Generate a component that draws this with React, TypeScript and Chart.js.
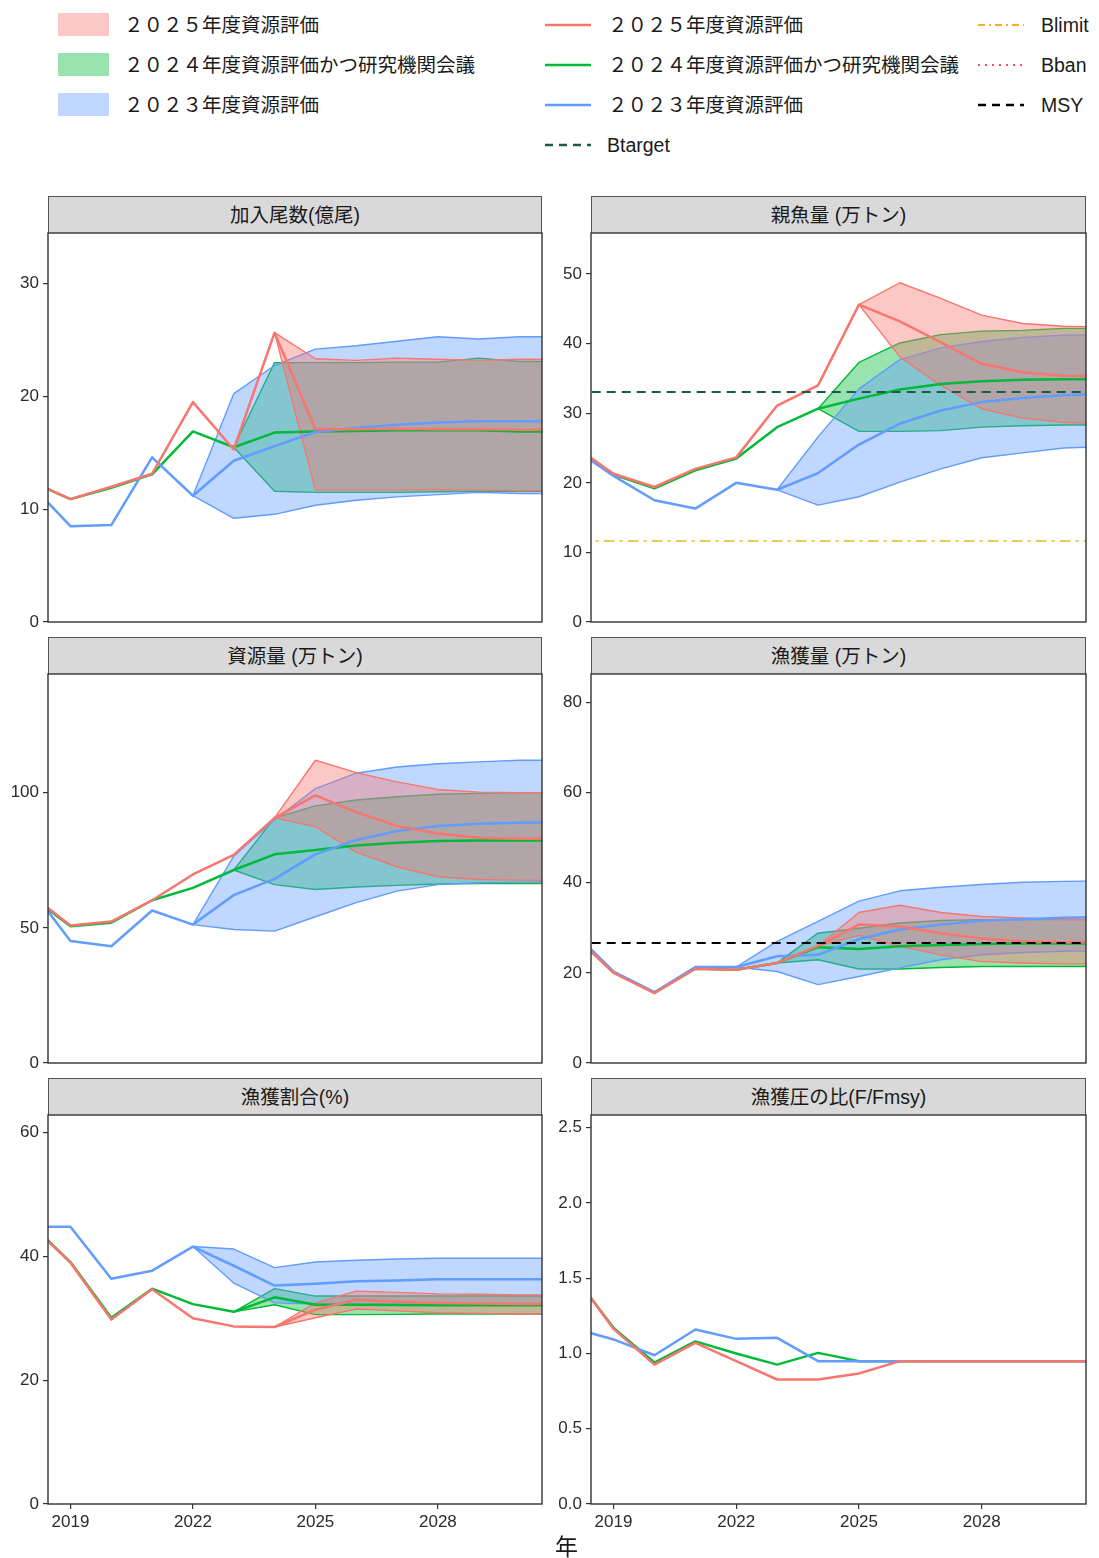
import React, { useEffect, useRef } from 'react';
import { Chart, registerables } from 'chart.js';

Chart.register(...registerables);

// ---------------- data ----------------
const years = [2018, 2019, 2020, 2021, 2022, 2023, 2024, 2025, 2026, 2027, 2028, 2029, 2030, 2031];
const xTickValues = [2019, 2022, 2025, 2028];
const X_MIN = 2018.45;
const X_MAX = 2030.55;

const seriesLabels = ['２０２５年度資源評価', '２０２４年度資源評価かつ研究機関会議', '２０２３年度資源評価'];
const refLabels = ['Blimit', 'Bban', 'MSY', 'Btarget'];
const panelTitles = ['加入尾数(億尾)', '親魚量 (万トン)', '資源量 (万トン)', '漁獲量 (万トン)', '漁獲割合(%)', '漁獲圧の比(F/Fmsy)'];
const xAxisTitle = '年';

const N = null;

// 加入尾数
const recTicks = [0, 10, 20, 30];
const recMax = 34.5;
const recRed = [12.5, 10.9, 12.0, 13.15, 19.5, 15.3, 25.66, 17.1, 17.1, 17.15, 17.1, 17.1, 17.05, 17.05];
const recRedLo = [N, N, N, N, N, N, 25.66, 11.7, 11.7, 11.7, 11.75, 11.7, 11.65, 11.65];
const recRedHi = [N, N, N, N, N, N, 25.66, 23.35, 23.2, 23.4, 23.3, 23.2, 23.3, 23.3];
const recGreen = [12.5, 10.9, 11.9, 13.1, 16.9, 15.5, 16.8, 16.9, 16.95, 17.0, 17.0, 17.0, 16.9, 16.9];
const recGreenLo = [N, N, N, N, N, 15.5, 11.6, 11.5, 11.5, 11.5, 11.55, 11.6, 11.6, 11.6];
const recGreenHi = [N, N, N, N, N, 15.5, 23.0, 23.0, 23.0, 23.05, 23.05, 23.4, 23.1, 23.1];
const recBlue = [12.3, 8.5, 8.6, 14.6, 11.2, 14.3, 15.6, 16.85, 17.2, 17.5, 17.7, 17.8, 17.8, 17.8];
const recBlueLo = [N, N, N, N, 11.2, 9.2, 9.55, 10.35, 10.8, 11.1, 11.3, 11.5, 11.4, 11.4];
const recBlueHi = [N, N, N, N, 11.2, 20.25, 22.75, 24.2, 24.5, 24.9, 25.3, 25.1, 25.3, 25.3];

// 親魚量
const ssbTicks = [0, 10, 20, 30, 40, 50];
const ssbMax = 55.9;
const ssbRed = [25.4, 21.3, 19.4, 22.0, 23.66, 31.1, 34.0, 45.6, 43.2, 40.2, 37.1, 35.9, 35.4, 35.3];
const ssbRedLo = [N, N, N, N, N, N, N, 45.6, 38.1, 34.0, 30.65, 29.3, 28.7, 28.5];
const ssbRedHi = [N, N, N, N, N, N, N, 45.6, 48.75, 46.5, 44.1, 42.9, 42.5, 42.4];
const ssbGreen = [25.4, 21.2, 19.2, 21.8, 23.5, 28.0, 30.65, 32.1, 33.4, 34.2, 34.6, 34.8, 34.9, 34.9];
const ssbGreenLo = [N, N, N, N, N, N, 30.65, 27.4, 27.4, 27.5, 28.0, 28.2, 28.3, 28.3];
const ssbGreenHi = [N, N, N, N, N, N, 30.65, 37.3, 40.1, 41.3, 41.8, 41.9, 42.2, 42.2];
const ssbBlue = [25.0, 21.0, 17.5, 16.3, 20.0, 19.0, 21.4, 25.5, 28.5, 30.4, 31.6, 32.2, 32.6, 32.8];
const ssbBlueLo = [N, N, N, N, N, 19.0, 16.8, 18.0, 20.1, 22.0, 23.6, 24.3, 25.0, 25.2];
const ssbBlueHi = [N, N, N, N, N, 19.0, 26.6, 33.5, 37.7, 39.4, 40.3, 40.9, 41.2, 41.3];
const ssbBtarget = 33.05;
const ssbBlimit = 11.64;

// 資源量
const bioTicks = [0, 50, 100];
const bioMax = 143.9;
const bioRed = [62.6, 50.9, 52.3, 60.2, 69.75, 77.0, 90.7, 99.0, 92.8, 87.7, 84.9, 83.3, 83.0, 82.9];
const bioRedLo = [N, N, N, N, N, N, 90.7, 87.4, 78.0, 72.6, 68.9, 67.9, 67.65, 67.6];
const bioRedHi = [N, N, N, N, N, N, 90.7, 112.0, 107.4, 104.0, 101.2, 100.2, 100.0, 100.0];
const bioGreen = [62.0, 50.6, 51.9, 60.2, 64.8, 71.4, 77.2, 78.8, 80.5, 81.5, 82.1, 82.3, 82.3, 82.3];
const bioGreenLo = [N, N, N, N, N, 71.4, 66.0, 64.2, 65.1, 65.7, 66.2, 66.4, 66.4, 66.4];
const bioGreenHi = [N, N, N, N, N, 71.4, 90.7, 95.1, 97.3, 98.5, 99.4, 99.75, 100.0, 100.0];
const bioBlue = [65.1, 45.1, 43.2, 56.4, 51.2, 62.1, 68.1, 77.2, 82.5, 85.8, 87.65, 88.5, 88.9, 89.0];
const bioBlueLo = [N, N, N, N, 51.2, 49.4, 48.8, 54.1, 59.3, 63.6, 66.0, 66.7, 66.9, 67.0];
const bioBlueHi = [N, N, N, N, 51.2, 76.5, 90.0, 101.5, 107.2, 109.5, 110.7, 111.4, 112.0, 112.0];

// 漁獲量
const catTicks = [0, 20, 40, 60, 80];
const catMax = 86.3;
const catRed = [28.6, 20.0, 15.5, 20.9, 20.7, 22.2, 26.0, 30.7, 30.3, 28.8, 27.6, 27.0, 26.8, 26.8];
const catRedLo = [N, N, N, N, N, N, 26.0, 28.3, 25.9, 24.0, 22.5, 22.2, 22.0, 22.0];
const catRedHi = [N, N, N, N, N, N, 26.0, 33.4, 35.0, 33.4, 32.5, 32.2, 31.8, 31.8];
const catGreen = [28.6, 20.1, 15.6, 20.9, 20.7, 22.2, 25.7, 25.3, 25.9, 26.2, 26.4, 26.5, 26.5, 26.5];
const catGreenLo = [N, N, N, N, N, 22.2, 22.9, 20.85, 20.85, 21.2, 21.4, 21.4, 21.4, 21.4];
const catGreenHi = [N, N, N, N, N, 22.2, 28.8, 29.9, 31.05, 31.6, 31.8, 31.8, 31.8, 31.8];
const catBlue = [29.3, 20.3, 15.7, 21.3, 21.3, 23.7, 24.0, 27.5, 29.6, 30.7, 31.6, 31.9, 32.2, 32.3];
const catBlueLo = [N, N, N, N, 21.3, 20.3, 17.4, 19.2, 21.1, 22.9, 24.0, 24.5, 24.8, 24.9];
const catBlueHi = [N, N, N, N, 21.3, 27.0, 31.4, 35.9, 38.2, 39.0, 39.6, 40.1, 40.3, 40.4];
const catMsy = 26.6;

// 漁獲割合
const hrTicks = [0, 20, 40, 60];
const hrMax = 62.86;
const hrRed = [45.3, 39.0, 29.8, 34.7, 30.0, 28.7, 28.6, 31.4, 33.0, 32.7, 32.5, 32.4, 32.3, 32.3];
const hrRedLo = [N, N, N, N, N, N, 28.6, 30.1, 31.5, 31.2, 30.9, 30.8, 30.7, 30.7];
const hrRedHi = [N, N, N, N, N, N, 28.6, 32.5, 34.4, 34.2, 33.96, 33.9, 33.8, 33.8];
const hrGreen = [45.4, 39.1, 30.1, 34.8, 32.3, 31.05, 33.4, 32.2, 32.2, 32.15, 32.1, 32.1, 32.1, 32.1];
const hrGreenLo = [N, N, N, N, N, 31.05, 32.2, 30.6, 30.6, 30.65, 30.7, 30.7, 30.7, 30.7];
const hrGreenHi = [N, N, N, N, N, 31.05, 34.8, 33.6, 33.6, 33.6, 33.6, 33.6, 33.6, 33.6];
const hrBlue = [44.8, 44.8, 36.4, 37.7, 41.6, 38.5, 35.3, 35.6, 36.0, 36.1, 36.3, 36.3, 36.3, 36.3];
const hrBlueLo = [N, N, N, N, 41.6, 35.7, 32.5, 32.3, 32.3, 32.3, 32.3, 32.3, 32.3, 32.3];
const hrBlueHi = [N, N, N, N, 41.6, 41.2, 38.2, 39.1, 39.4, 39.6, 39.7, 39.7, 39.7, 39.7];

// 漁獲圧の比
const fTicks = [0, 0.5, 1.0, 1.5, 2.0, 2.5];
const fMax = 2.584;
const fRed = [1.534, 1.163, 0.926, 1.07, 0.949, 0.827, 0.827, 0.867, 0.949, 0.949, 0.949, 0.949, 0.949, 0.949];
const fGreen = [1.53, 1.17, 0.94, 1.08, 1.0, 0.926, 1.004, 0.949, 0.949, 0.949, 0.949, 0.949, 0.949, 0.949];
const fBlue = [1.17, 1.093, 0.988, 1.159, 1.097, 1.104, 0.949, 0.949, 0.949, 0.949, 0.949, 0.949, 0.949, 0.949];

// ---------------- styles ----------------
const RED = '#F8766D';
const GREEN = '#00BA38';
const BLUE = '#619CFF';
const RED_F = 'rgba(248,118,109,0.4)';
const GREEN_F = 'rgba(0,186,56,0.4)';
const BLUE_F = 'rgba(97,156,255,0.4)';
const BLIMIT_C = '#EEB422';
const BBAN_C = '#E5575C';
const MSY_C = '#000000';
const BTARGET_C = '#1C5A45';
const FONT = "'Liberation Sans', 'Noto Sans CJK JP', sans-serif";
const TICK_C = '#2b2b2b';

type Ref = { value: number; color: string; dash: number[]; width: number };
type PanelCfg = {
  title: string;
  yMax: number;
  yTicks: number[];
  red: (number | null)[];
  green: (number | null)[];
  blue: (number | null)[];
  bands?: { lo: (number | null)[]; hi: (number | null)[] }[]; // green, blue, red
  refs: Ref[];
};

const panels: PanelCfg[] = [
  { title: panelTitles[0], yMax: recMax, yTicks: recTicks, red: recRed, green: recGreen, blue: recBlue,
    bands: [{ lo: recGreenLo, hi: recGreenHi }, { lo: recBlueLo, hi: recBlueHi }, { lo: recRedLo, hi: recRedHi }], refs: [] },
  { title: panelTitles[1], yMax: ssbMax, yTicks: ssbTicks, red: ssbRed, green: ssbGreen, blue: ssbBlue,
    bands: [{ lo: ssbGreenLo, hi: ssbGreenHi }, { lo: ssbBlueLo, hi: ssbBlueHi }, { lo: ssbRedLo, hi: ssbRedHi }],
    refs: [
      { value: ssbBtarget, color: BTARGET_C, dash: [9, 6], width: 2 },
      { value: ssbBlimit, color: BLIMIT_C, dash: [11, 5, 3, 5], width: 1.7 },
    ] },
  { title: panelTitles[2], yMax: bioMax, yTicks: bioTicks, red: bioRed, green: bioGreen, blue: bioBlue,
    bands: [{ lo: bioGreenLo, hi: bioGreenHi }, { lo: bioBlueLo, hi: bioBlueHi }, { lo: bioRedLo, hi: bioRedHi }], refs: [] },
  { title: panelTitles[3], yMax: catMax, yTicks: catTicks, red: catRed, green: catGreen, blue: catBlue,
    bands: [{ lo: catGreenLo, hi: catGreenHi }, { lo: catBlueLo, hi: catBlueHi }, { lo: catRedLo, hi: catRedHi }],
    refs: [{ value: catMsy, color: MSY_C, dash: [9, 6], width: 2 }] },
  { title: panelTitles[4], yMax: hrMax, yTicks: hrTicks, red: hrRed, green: hrGreen, blue: hrBlue,
    bands: [{ lo: hrGreenLo, hi: hrGreenHi }, { lo: hrBlueLo, hi: hrBlueHi }, { lo: hrRedLo, hi: hrRedHi }], refs: [] },
  { title: panelTitles[5], yMax: fMax, yTicks: fTicks, red: fRed, green: fGreen, blue: fBlue, refs: [] },
];

// layout (pixels)
const COLS = [
  { canvasLeft: 0, canvasWidth: 550, yW: 48, padRight: 8, plotLeft: 48, plotRight: 542 },
  { canvasLeft: 550, canvasWidth: 549, yW: 41, padRight: 13, plotLeft: 591, plotRight: 1086 },
];
const ROWS = [
  { plotTop: 233, plotBottom: 622, stripTop: 196 },
  { plotTop: 674, plotBottom: 1063, stripTop: 637 },
  { plotTop: 1115, plotBottom: 1504, stripTop: 1078 },
];
const PAD = 16;
const XAXIS_H = 36;

const borderPlugin = {
  id: 'panelBorder',
  afterDatasetsDraw(chart: any) {
    const { ctx, chartArea: a } = chart;
    ctx.save();
    ctx.strokeStyle = '#333333';
    ctx.lineWidth = 1.4;
    ctx.strokeRect(a.left, a.top, a.right - a.left, a.bottom - a.top);
    ctx.restore();
  },
};

function Panel({ cfg, col, row, bottom }: { cfg: PanelCfg; col: number; row: number; bottom: boolean }) {
  const ref = useRef<HTMLCanvasElement>(null);
  const c = COLS[col];
  const r = ROWS[row];
  const plotH = r.plotBottom - r.plotTop;
  const height = bottom ? plotH + PAD + XAXIS_H : plotH + 2 * PAD;
  const top = r.plotTop - PAD;

  useEffect(() => {
    if (!ref.current) return;
    const pts = (arr: (number | null)[]) => years.map((x, i) => ({ x, y: arr[i] }));
    const datasets: any[] = [];
    const bandColors = [
      [GREEN, GREEN_F],
      [BLUE, BLUE_F],
      [RED, RED_F],
    ];
    let ord = 20;
    if (cfg.bands) {
      cfg.bands.forEach((b, k) => {
        datasets.push({ data: pts(b.lo), borderColor: bandColors[k][0], borderWidth: 1.4, fill: false, order: ord-- });
        datasets.push({ data: pts(b.hi), borderColor: bandColors[k][0], borderWidth: 1.4, fill: '-1',
          backgroundColor: bandColors[k][1], order: ord-- });
      });
    }
    datasets.push({ data: pts(cfg.green), borderColor: GREEN, borderWidth: 2.5, fill: false, order: 3 });
    datasets.push({ data: pts(cfg.blue), borderColor: BLUE, borderWidth: 2.5, fill: false, order: 2 });
    datasets.push({ data: pts(cfg.red), borderColor: RED, borderWidth: 2.5, fill: false, order: 1 });
    cfg.refs.forEach((rf) => {
      datasets.push({ data: [{ x: 2017, y: rf.value }, { x: 2032, y: rf.value }], borderColor: rf.color,
        borderWidth: rf.width, borderDash: rf.dash, fill: false, order: 0 });
    });

    const tickFont = { family: FONT, size: 17 };
    const chart = new Chart(ref.current, {
      type: 'line',
      data: { datasets },
      plugins: [borderPlugin],
      options: {
        responsive: false,
        maintainAspectRatio: false,
        animation: false,
        events: [],
        layout: { padding: { top: PAD, bottom: bottom ? 0 : PAD, left: 0, right: c.padRight } },
        elements: { point: { radius: 0 }, line: { tension: 0, borderCapStyle: 'butt', borderJoinStyle: 'round' } },
        plugins: {
          legend: { display: false },
          tooltip: { enabled: false },
          filler: { drawTime: 'beforeDatasetDraw', propagate: false },
        } as any,
        scales: {
          x: {
            type: 'linear',
            min: X_MIN,
            max: X_MAX,
            display: bottom,
            afterBuildTicks: (s: any) => { s.ticks = xTickValues.map((v) => ({ value: v })); },
            afterFit: (s: any) => { s.height = bottom ? XAXIS_H : 0; },
            grid: { drawOnChartArea: false, drawTicks: true, tickLength: 5, color: '#333333', lineWidth: 1.2 },
            border: { display: false },
            ticks: { font: tickFont, color: TICK_C, padding: 3, maxRotation: 0, autoSkip: false, callback: (v: any) => String(v) },
          },
          y: {
            type: 'linear',
            min: 0,
            max: cfg.yMax,
            afterBuildTicks: (s: any) => { s.ticks = cfg.yTicks.map((v) => ({ value: v })); },
            afterFit: (s: any) => { s.width = c.yW; },
            grid: { drawOnChartArea: false, drawTicks: true, tickLength: 5, color: '#333333', lineWidth: 1.2 },
            border: { display: false },
            ticks: {
              font: tickFont, color: TICK_C, padding: 4, autoSkip: false,
              callback: (v: any) => (cfg.yTicks.some((t) => t % 1 !== 0) ? Number(v).toFixed(1) : String(v)),
            },
          },
        },
      } as any,
    });
    return () => chart.destroy();
  }, []);

  return (
    <>
      <div
        style={{
          position: 'absolute', left: c.plotLeft, top: r.stripTop, width: c.plotRight - c.plotLeft,
          height: r.plotTop - r.stripTop, boxSizing: 'border-box', background: '#D9D9D9',
          border: '1.4px solid #555', borderBottom: 'none', display: 'flex', alignItems: 'center',
          justifyContent: 'center', fontFamily: FONT, fontSize: 19.5, color: '#1A1A1A', paddingBottom: 3,
        }}
      >
        {cfg.title}
      </div>
      <canvas
        ref={ref}
        width={c.canvasWidth}
        height={height}
        style={{ position: 'absolute', left: c.canvasLeft, top, width: c.canvasWidth, height }}
      />
    </>
  );
}

function LineSample({ x, y, color, dash, width }: { x: number; y: number; color: string; dash?: string; width: number }) {
  return (
    <svg style={{ position: 'absolute', left: x, top: y - 6 }} width={46} height={12}>
      <line x1={0} y1={6} x2={46} y2={6} stroke={color} strokeWidth={width} strokeDasharray={dash} />
    </svg>
  );
}

function LegendText({ x, y, text }: { x: number; y: number; text: string }) {
  return (
    <div style={{ position: 'absolute', left: x, top: y - 14, height: 28, lineHeight: '28px', fontFamily: FONT,
      fontSize: 19.5, color: '#1A1A1A', whiteSpace: 'nowrap' }}>{text}</div>
  );
}

export default function App() {
  const rowY = [24.5, 64.5, 104.5, 144.5];
  const fills = [RED_F, GREEN_F, BLUE_F];
  const lines = [RED, GREEN, BLUE];
  return (
    <div style={{ position: 'absolute', left: 0, top: 0, width: 1099, height: 1558, background: '#fff', overflow: 'hidden' }}>
      {/* legend: fills */}
      {seriesLabels.map((t, i) => (
        <React.Fragment key={'f' + i}>
          <div style={{ position: 'absolute', left: 58, top: rowY[i] - 11.75, width: 51, height: 23.5, background: fills[i] }} />
          <LegendText x={124} y={rowY[i]} text={t} />
        </React.Fragment>
      ))}
      {/* legend: lines */}
      {seriesLabels.map((t, i) => (
        <React.Fragment key={'l' + i}>
          <LineSample x={545} y={rowY[i]} color={lines[i]} width={2.6} />
          <LegendText x={608} y={rowY[i]} text={t} />
        </React.Fragment>
      ))}
      <LineSample x={545} y={rowY[3]} color={BTARGET_C} width={2.4} dash="8 6" />
      <LegendText x={607} y={rowY[3]} text={refLabels[3]} />
      <LineSample x={978} y={rowY[0]} color={BLIMIT_C} width={1.8} dash="7 4 2 4" />
      <LegendText x={1041} y={rowY[0]} text={refLabels[0]} />
      <LineSample x={978} y={rowY[1]} color={BBAN_C} width={2} dash="2 5" />
      <LegendText x={1041} y={rowY[1]} text={refLabels[1]} />
      <LineSample x={978} y={rowY[2]} color={MSY_C} width={2.4} dash="8 6" />
      <LegendText x={1041} y={rowY[2]} text={refLabels[2]} />

      {panels.map((p, i) => (
        <Panel key={i} cfg={p} col={i % 2} row={Math.floor(i / 2)} bottom={i >= 4} />
      ))}

      <div style={{ position: 'absolute', left: 566.5 - 20, width: 40, top: 1532, height: 30, lineHeight: '30px',
        textAlign: 'center', fontFamily: FONT, fontSize: 23, color: '#1A1A1A' }}>{xAxisTitle}</div>
    </div>
  );
}
